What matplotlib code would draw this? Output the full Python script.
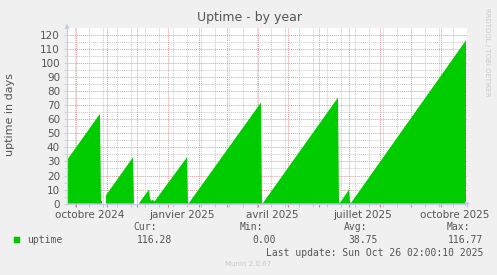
import numpy as np
import pandas as pd
import matplotlib
matplotlib.use("Agg")
import matplotlib.pyplot as plt
import matplotlib.dates as mdates
import matplotlib.transforms as mtrans

# uptime in days, sampled at key dates (NaN = no data)
dates = ["2024-09-22", "2024-10-25", "2024-10-26", "2024-10-27", "2024-10-28",
         "2024-10-31", "2024-11-27", "2024-11-28", "2024-11-29",
         "2024-12-03", "2024-12-13", "2024-12-14", "2024-12-15", "2024-12-17",
         "2024-12-18", "2024-12-19", "2025-01-20", "2025-01-21", "2025-01-22",
         "2025-04-04", "2025-04-05", "2025-04-06", "2025-06-20", "2025-06-21",
         "2025-06-22", "2025-07-01", "2025-07-02", "2025-07-03", "2025-10-26"]
uptime = [31, 64, 1.5, 2.5, np.nan,
          6, 33, 1, np.nan,
          0.3, 10, 4, 2, 3,
          1.5, 2, 33, 0.3, 0.5,
          72, 0.5, 0.5, 75.5, 1,
          0.5, 10, 1, 0.5, 116.3]

month_labels = ["octobre 2024", "janvier 2025", "avril 2025", "juillet 2025", "octobre 2025"]
label_dates = ["2024-10-15", "2025-01-15", "2025-04-15", "2025-07-15", "2025-10-15"]

stat_names = ["Cur:", "Min:", "Avg:", "Max:"]
stat_values = ["116.28", "0.00", "38.75", "116.77"]

GREEN = "#00cc00"
BG = "#f0f0f0"
TXT = "#555555"
AXC = "#c8c8f0"

x = pd.to_datetime(dates)
y = np.array(uptime, dtype=float)

fig = plt.figure(figsize=(4.97, 2.75), dpi=100)
fig.patch.set_facecolor(BG)
ax = fig.add_axes([67 / 497, 1 - 203.6 / 275, 400 / 497, 175.6 / 275])
ax.set_facecolor("white")

ax.fill_between(x, 0, y, color=GREEN, linewidth=0, zorder=2)

ax.set_xlim(pd.Timestamp("2024-09-22"), pd.Timestamp("2025-10-27"))
ax.set_ylim(0, 125)

# grid
ax.set_yticks(np.arange(0, 121, 10))
ax.set_yticks(np.arange(5, 125, 10), minor=True)
ax.xaxis.set_major_locator(mdates.MonthLocator())
ax.set_xticks(pd.date_range("2024-09-30", "2025-10-27", freq="14D"), minor=True)
ax.xaxis.set_major_formatter(plt.NullFormatter())
ax.grid(which="minor", color="#c8c8c8", linestyle=(0, (1, 1)), linewidth=0.7, zorder=1)
ax.grid(which="major", color="#e09a9a", linestyle=(0, (1, 1)), linewidth=0.7, zorder=1)
ax.set_axisbelow(True)

ax.tick_params(axis="y", which="both", length=2, color="#d0d0d0", labelsize=7.5,
               labelcolor=TXT, pad=3)
ax.tick_params(axis="x", which="major", length=2, color="#e08080", direction="out")
ax.tick_params(axis="x", which="minor", length=2, color="#c0c0c0", direction="out")

for s in ["top", "right"]:
    ax.spines[s].set_visible(False)
for s in ["left", "bottom"]:
    ax.spines[s].set_color(AXC)
    ax.spines[s].set_linewidth(0.8)

# axis arrows
ax.annotate("", xy=(0, 1.04), xytext=(0, 0.98), xycoords="axes fraction",
            arrowprops=dict(arrowstyle="-|>", color=AXC, lw=0.8, mutation_scale=6),
            annotation_clip=False)
ax.annotate("", xy=(1.015, 0), xytext=(0.995, 0), xycoords="axes fraction",
            arrowprops=dict(arrowstyle="-|>", color=AXC, lw=0.8, mutation_scale=6),
            annotation_clip=False)

trans = mtrans.blended_transform_factory(ax.transData, ax.transAxes)
for d, lab in zip(label_dates, month_labels):
    ax.text(pd.Timestamp(d), -0.035, lab, transform=trans, ha="center", va="top",
            fontsize=7.5, color=TXT)

fig.text(249.5 / 497, 1 - 18 / 275, "Uptime - by year", ha="center", va="center",
         fontsize=9, color=TXT)
fig.text(10 / 497, 1 - 115 / 275, "uptime in days", rotation=90, ha="center",
         va="center", fontsize=8, color=TXT)
fig.text(487 / 497, 1 - 52 / 275, "RRDTOOL / TOBI OETIKER", rotation=270, ha="center",
         va="center", fontsize=5, color="#c8c8c8")

mono = "DejaVu Sans Mono"
fig.patches.append(plt.Rectangle((14 / 497, 1 - 243 / 275), 6 / 497, 6 / 275,
                                 transform=fig.transFigure, facecolor=GREEN,
                                 edgecolor="#00aa00", linewidth=0.3))
fig.text(27 / 497, 1 - 240 / 275, "uptime", family=mono, fontsize=7, color=TXT,
         va="center")
name_right = [157, 263, 367, 470]
val_right = [172, 276, 378, 483]
for n, v, nr, vr in zip(stat_names, stat_values, name_right, val_right):
    fig.text(nr / 497, 1 - 227 / 275, n, family=mono, fontsize=7, color=TXT,
             ha="right", va="center")
    fig.text(vr / 497, 1 - 240 / 275, v, family=mono, fontsize=7, color=TXT,
             ha="right", va="center")
fig.text(483 / 497, 1 - 253 / 275, "Last update: Sun Oct 26 02:00:10 2025",
         family=mono, fontsize=7, color=TXT, ha="right", va="center")
fig.text(248 / 497, 1 - 264 / 275, "Munin 2.0.67", fontsize=5, color="#c8c8c8",
         ha="center", va="center")

fig.savefig("out.png", dpi=100, facecolor=BG)
